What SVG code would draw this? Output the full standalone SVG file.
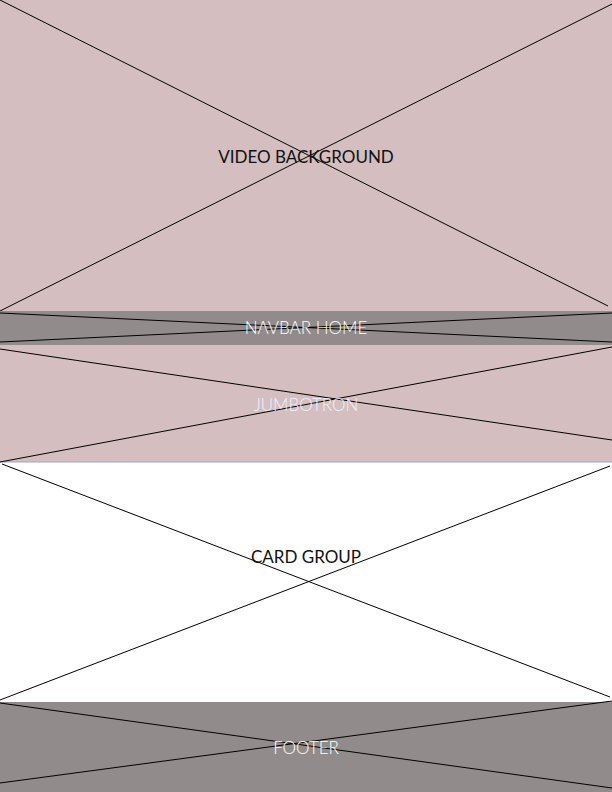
<svg xmlns="http://www.w3.org/2000/svg" width="612" height="792" viewBox="0 0 612 792">
<style>
.x{stroke:#000;stroke-width:1;fill:none}
.pink{fill:#d5bebf}
.gray{fill:#918c8b}
.dark{font-family:Lato,"Liberation Sans",sans-serif;font-size:17px;fill:#111;text-anchor:middle}
.light{font-family:Lato,"Liberation Sans",sans-serif;font-weight:300;font-size:17px;fill:#fff;text-anchor:middle}
</style>
<rect width="612" height="792" fill="#fff"/>
<g id="video-background">
<rect class="pink" x="0" y="0" width="612" height="311"/>
<line class="x" x1="0" y1="0" x2="608" y2="306"/>
<line class="x" x1="612" y1="4" x2="0" y2="311"/>
<text class="dark" x="306" y="163">VIDEO BACKGROUND</text>
</g>
<g id="navbar-home">
<rect class="gray" x="0" y="311" width="612" height="34"/>
<line class="x" x1="0" y1="313" x2="612" y2="342"/>
<line class="x" x1="0" y1="342" x2="612" y2="313"/>
<text class="light" x="306" y="334">NAVBAR HOME</text>
</g>
<g id="jumbotron">
<rect class="pink" x="0" y="345" width="612" height="117"/>
<line x1="0" y1="462" x2="612" y2="462" stroke="#a9a3bd" stroke-width="1"/>
<line class="x" x1="0" y1="349" x2="612" y2="440"/>
<line class="x" x1="0" y1="462" x2="612" y2="347"/>
<text class="light" x="306" y="411" style="fill:#eef2ff">JUMBOTRON</text>
</g>
<g id="card-group">
<line class="x" x1="2" y1="464" x2="610" y2="697"/>
<line class="x" x1="610" y1="466" x2="0" y2="700"/>
<text class="dark" x="306" y="563">CARD GROUP</text>
</g>
<g id="footer">
<rect class="gray" x="0" y="702" width="612" height="90"/>
<line class="x" x1="0" y1="703" x2="612" y2="788"/>
<line class="x" x1="0" y1="783" x2="612" y2="701"/>
<text class="light" x="306" y="754">FOOTER</text>
</g>
</svg>
